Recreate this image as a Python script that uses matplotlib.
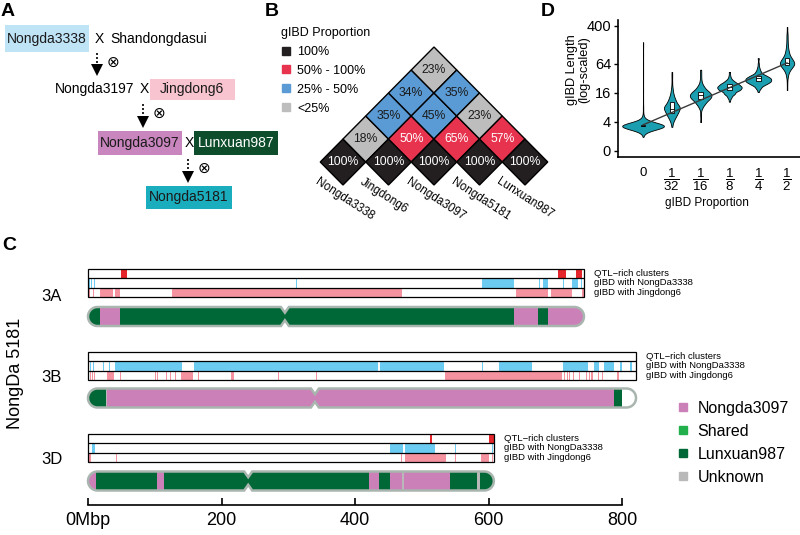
import numpy as np
import matplotlib
matplotlib.use('Agg')
import matplotlib.pyplot as plt
from matplotlib.patches import Polygon, Rectangle
from matplotlib.lines import Line2D

plt.rcParams['font.family'] = ['Liberation Sans', 'DejaVu Sans']
plt.rcParams['mathtext.fontset'] = 'custom'
plt.rcParams['mathtext.rm'] = 'Liberation Sans'
plt.rcParams['mathtext.it'] = 'Liberation Sans'
plt.rcParams['mathtext.bf'] = 'Liberation Sans:bold'

# ---------------- data ----------------
# A: pedigree
ped_names = ['Nongda3338', 'Jingdong6', 'Nongda3097', 'Lunxuan987', 'Nongda5181']
ped_colors = ['#bfe4f6', '#f7c4cf', '#c985bd', '#0e4d2c', '#1aadbd']
ped_text_colors = ['#1a1a1a', '#1a1a1a', '#1a1a1a', 'white', '#1a1a1a']

# B: gIBD proportion between lines (upper triangle)
lines_b = ['Nongda3338', 'Jingdong6', 'Nongda3097', 'Nongda5181', 'Lunxuan987']
gibd_pct = [[100, 18, 35, 34, 23],
            [None, 100, 50, 45, 35],
            [None, None, 100, 65, 23],
            [None, None, None, 100, 57],
            [None, None, None, None, 100]]
pct_classes = ['100%', '50% - 100%', '25% - 50%', '<25%']
pct_colors = ['#231f20', '#e8334f', '#5b9bd5', '#bdbdbd']

# D: gIBD length (log2 Mbp) distributions, read as value / count
d_groups = ['0', '1/32', '1/16', '1/8', '1/4', '1/2']
d_labels = ['0', r'$\dfrac{1}{32}$', r'$\dfrac{1}{16}$', r'$\dfrac{1}{8}$',
            r'$\dfrac{1}{4}$', r'$\dfrac{1}{2}$']
len_vals = [
    [0.97, 1.3, 1.5, 1.6, 1.7, 1.75, 1.8, 1.9, 2.1, 2.4, 3.0, 3.6, 4.2, 4.8, 5.4, 6.0, 6.6, 7.2, 7.5],
    [1.66, 2.0, 2.3, 2.6, 2.9, 3.1, 3.4, 3.7, 4.0, 4.3, 4.7, 5.1, 5.45],
    [2.0, 2.5, 3.0, 3.3, 3.6, 3.85, 4.1, 4.4, 4.7, 5.0, 5.3, 5.6],
    [3.4, 3.7, 3.95, 4.2, 4.4, 4.6, 4.8, 5.0, 5.2, 5.45],
    [4.07, 4.35, 4.6, 4.8, 5.0, 5.2, 5.45, 5.7, 6.0, 6.4],
    [4.2, 4.7, 5.2, 5.6, 5.9, 6.1, 6.4, 6.8, 7.2, 7.6, 8.0, 8.55],
]
len_counts = [
    [1, 4, 20, 40, 60, 60, 40, 20, 8, 4, 2, 1, 1, 1, 1, 1, 1, 1, 1],
    [1, 3, 8, 14, 16, 14, 10, 6, 3, 2, 1, 1, 1],
    [1, 1, 3, 8, 14, 16, 12, 6, 2, 1, 1, 1],
    [1, 3, 8, 14, 16, 12, 6, 2, 1, 1],
    [1, 4, 10, 16, 16, 10, 4, 2, 1, 1],
    [1, 1, 3, 8, 14, 16, 12, 6, 3, 2, 2, 1],
]
trend_x = [0, 5]
trend_y = [1.8, 6.07]
ytick_vals = [1, 4, 16, 64, 400]
ytick_labels = ['0', '4', '16', '64', '400']

# C: chromosome 3 of NongDa 5181 (Mbp)
chroms = ['3A', '3B', '3D']
chrom_len = [743, 821, 608]
centromere = [295, 340, 240]
qtl_3a = [(50, 58), (704, 716), (731, 740)]
qtl_3b = []
qtl_3d = [(512, 516), (601, 608)]
ibd3338_3a = [(1, 2.5), (5, 6.5), (9, 10.5), (312, 313.5), (590, 638), (675, 676.5),
              (682, 689), (712, 713.5), (725, 734), (738, 739.5)]
ibd3338_3b = [(0, 1.5), (3, 4.5), (7, 8.5), (22, 23.5), (31, 32.5), (40, 141), (159, 435),
              (437, 533), (591, 592.5), (616, 665), (712, 749), (758, 766), (773, 788),
              (797, 800), (812, 815)]
ibd3338_3d = [(6, 10), (452, 472), (475, 520), (550, 551.5), (605, 606.5)]
ibdjd6_3a = [(1, 2.5), (7, 8.5), (18, 38), (40, 48), (126, 470), (641, 689), (694, 725), (740, 743)]
ibdjd6_3b = [(0, 1.5), (3, 4.5), (6, 7.5), (9, 10.5), (28, 39), (48, 49.5), (101, 102.5),
             (104, 105.5), (117, 118.5), (123, 124.5), (131, 132.5), (139, 157), (165, 166.5),
             (214, 219), (285, 286.5), (342, 343.5), (535, 710), (713, 714.5), (717, 718.5),
             (721, 722.5), (727, 728.5), (735, 737), (746, 748), (750, 752), (754, 757),
             (764, 765.5), (770, 771.5), (793, 796)]
ibdjd6_3d = [(0, 4), (42, 43.5), (469, 470.5), (475, 536), (550, 551.5), (589, 601), (605, 606.5)]
origin_3a = [(0, 18, 'Lunxuan987'), (18, 48, 'Nongda3097'), (48, 638, 'Lunxuan987'),
             (638, 674, 'Nongda3097'), (674, 689, 'Lunxuan987'), (689, 743, 'Nongda3097')]
origin_3b = [(0, 27, 'Lunxuan987'), (27, 28.5, 'Unknown'), (28.5, 788, 'Nongda3097'),
             (788, 821, 'Lunxuan987')]
origin_3d = [(0, 12, 'Nongda3097'), (12, 103, 'Lunxuan987'), (103, 114, 'Nongda3097'),
             (114, 421, 'Lunxuan987'), (421, 436, 'Nongda3097'), (436, 452, 'Lunxuan987'),
             (452, 471, 'Nongda3097'), (471, 473, 'Unknown'), (473, 542, 'Nongda3097'),
             (542, 583, 'Lunxuan987'), (583, 588, 'Unknown'), (588, 608, 'Lunxuan987')]
origin_names = ['Nongda3097', 'Shared', 'Lunxuan987', 'Unknown']
origin_colors = ['#cc80b8', '#21b04b', '#006837', '#b9b9b9']
track_names = ['QTL\u2212rich clusters', 'gIBD with NongDa3338', 'gIBD with Jingdong6']
track_colors = ['#e4262c', '#6ccbf0', '#f4929f']
x_ticks_c = [0, 200, 400, 600, 800]
x_ticklabels_c = ['0Mbp', '200', '400', '600', '800']

W, H = 800, 535


def frect(l, t, r, b):
    return [l / W, 1 - b / H, (r - l) / W, (b - t) / H]


fig = plt.figure(figsize=(8, 5.35), dpi=100)

for lab, x, y in [('A', 8, 11), ('B', 272, 11), ('C', 9, 246), ('D', 548, 11)]:
    fig.text(x / W, 1 - y / H, lab, fontsize=14, fontweight='bold', ha='center', va='center')

# ---------------- A ----------------
ax_a = fig.add_axes(frect(0, 0, 290, 215))
ax_a.set_xlim(0, 290)
ax_a.set_ylim(215, 0)
ax_a.axis('off')
box_xy = [(5, 89, 25, 52), (150, 235, 79, 100), (98, 182, 131, 155), (194, 278, 131, 155),
          (146, 232, 186, 209)]
text_x = [47, 192, 140, 236, 189]
for name, col, tcol, (x0, x1, y0, y1), tx in zip(ped_names, ped_colors, ped_text_colors, box_xy, text_x):
    ax_a.add_patch(Rectangle((x0, y0), x1 - x0, y1 - y0, color=col, lw=0))
    ax_a.text(tx, (y0 + y1) / 2, name, fontsize=10, color=tcol, ha='center', va='center')
ax_a.text(99, 39, 'X', fontsize=10, ha='center', va='center')
ax_a.text(110, 39, 'Shandongdasui', fontsize=10, ha='left', va='center')
ax_a.text(134, 89, 'Nongda3197', fontsize=10, ha='right', va='center')
ax_a.text(144, 89, 'X', fontsize=10, ha='center', va='center')
ax_a.text(189, 143, 'X', fontsize=10, ha='center', va='center')
for x, y0, y1 in [(97, 53, 75), (143, 104, 127), (188, 159, 182)]:
    ax_a.plot([x, x], [y0, y1 - 8], color='k', lw=1.2, ls=(0, (1.2, 1.2)))
    ax_a.plot(x, y1 - 5, marker='v', ms=8, color='k', mew=0)
    ax_a.text(x + 16, y0 + 9, '\u2297', fontsize=11, family='DejaVu Sans', ha='center', va='center')

# ---------------- B ----------------
ax_b = fig.add_axes(frect(240, 20, 560, 225))
ax_b.set_xlim((240 - 343) / 45.5, (560 - 343) / 45.5)
ax_b.set_ylim((162 - 225) / 23, (162 - 20) / 23)
ax_b.axis('off')
for i in range(5):
    for j in range(i, 5):
        v = gibd_pct[i][j]
        k = 0 if v == 100 else 1 if v >= 50 else 2 if v >= 25 else 3
        cx, cy = (i + j) / 2, j - i
        ax_b.add_patch(Polygon([(cx - 0.5, cy), (cx, cy + 1), (cx + 0.5, cy), (cx, cy - 1)],
                               closed=True, fc=pct_colors[k], ec='k', lw=1.0))
        tc = 'white' if k < 2 else '#1a1a1a'
        ax_b.text(cx, cy, f'{v}%', fontsize=8.8, color=tc, ha='center', va='center')
for i, name in enumerate(lines_b):
    ax_b.text(i - 0.52, -0.6, name, fontsize=8.5, rotation=-33, rotation_mode='anchor',
              ha='left', va='top')
hb = [Line2D([], [], marker='s', ls='', color=c, ms=6) for c in pct_colors]
leg_b = ax_b.legend(hb, pct_classes, title='gIBD Proportion', loc='upper left',
                    bbox_to_anchor=(281 / W, 1 - 27 / H), bbox_transform=fig.transFigure,
                    frameon=False, fontsize=9, title_fontsize=9, alignment='left',
                    handlelength=0.8, handletextpad=0.5, labelspacing=0.55, borderpad=0,
                    borderaxespad=0)

# ---------------- D ----------------
ax_d = fig.add_axes(frect(618, 20, 800, 157))
samples = [np.repeat(v, c) for v, c in zip(len_vals, len_counts)]
pos = np.arange(len(d_groups))
violin_widths = [1.45, 0.55, 0.75, 0.85, 0.9, 0.5]
parts = ax_d.violinplot(samples, positions=pos, widths=violin_widths, showextrema=False,
                        bw_method=0.3)
for b in parts['bodies']:
    b.set_facecolor('#1b9eb0')
    b.set_edgecolor('k')
    b.set_linewidth(0.6)
    b.set_alpha(1)
ax_d.boxplot(samples, positions=pos, widths=0.16, showfliers=False, whis=0, showcaps=False,
             patch_artist=True, boxprops=dict(facecolor='white', lw=0.6),
             medianprops=dict(color='k', lw=0.6), whiskerprops=dict(lw=0))
ax_d.plot(trend_x, trend_y, color='#3a3a3a', lw=1, zorder=5)
ax_d.set_xlim(-0.87, 5.45)
ax_d.set_ylim(-0.414, 9.03)
ax_d.set_yticks(np.log2(ytick_vals))
ax_d.set_yticklabels(ytick_labels, fontsize=10.5)
ax_d.set_xticks(pos)
ax_d.set_xticklabels(d_labels, fontsize=9.5)
ax_d.tick_params(axis='x', length=0, pad=7)
ax_d.tick_params(axis='y', length=3, width=1, pad=2)
for s in ['top', 'right']:
    ax_d.spines[s].set_visible(False)
for s in ['left', 'bottom']:
    ax_d.spines[s].set_linewidth(1.2)
ax_d.set_ylabel('gIBD Length\n(log-scaled)', fontsize=9.2, linespacing=0.95)
ax_d.yaxis.set_label_coords(-0.155, 0.64)
ax_d.set_xlabel('gIBD Proportion', fontsize=8.5)
ax_d.xaxis.set_label_coords(0.49, -0.29)

# ---------------- C ----------------
ax_c = fig.add_axes(frect(88, 262, 622, 505))
ax_c.set_xlim(0, 800)
ax_c.set_ylim(505, 262)
sx = 800 / 534  # Mbp per pixel
track_top = [269, 352, 434]
row_h = 9.3
ideo_c = [316.5, 398, 481]
ideo_h = 9.5
chrom_y_label = [297, 378, 460]
qtls = [qtl_3a, qtl_3b, qtl_3d]
ibd3338 = [ibd3338_3a, ibd3338_3b, ibd3338_3d]
ibdjd6 = [ibdjd6_3a, ibdjd6_3b, ibdjd6_3d]
origins = [origin_3a, origin_3b, origin_3d]
ocol = dict(zip(origin_names, origin_colors))


def chrom_outline(L, c, yc, h):
    rx = h * sx
    w = 4 * sx
    pinch = 0.4 * h
    top, bot = yc - h, yc + h
    pts = [(rx, top), (c - w, top), (c, yc - pinch), (c + w, top), (L - rx, top)]
    for a in np.linspace(np.pi / 2, -np.pi / 2, 24):
        pts.append((L - rx + rx * np.cos(a), yc - h * np.sin(a)))
    pts += [(c + w, bot), (c, yc + pinch), (c - w, bot), (rx, bot)]
    for a in np.linspace(3 * np.pi / 2, np.pi / 2, 24):
        pts.append((rx + rx * np.cos(a), yc - h * np.sin(a)))
    return pts


for k, ch in enumerate(chroms):
    L = chrom_len[k]
    top = track_top[k]
    for r, segs in enumerate([qtls[k], ibd3338[k], ibdjd6[k]]):
        if segs:
            ax_c.broken_barh([(s, e - s) for s, e in segs], (top + r * row_h, row_h),
                             facecolors=track_colors[r], lw=0, clip_on=False)
        ax_c.text(L + 10 * sx, top + (r + 0.5) * row_h, track_names[r], fontsize=6.8,
                  va='center', ha='left', clip_on=False)
    ax_c.add_patch(Rectangle((0, top), L, 3 * row_h, fill=False, ec='k', lw=0.9, clip_on=False))
    ax_c.hlines([top + row_h, top + 2 * row_h], 0, L, color='k', lw=0.9, clip_on=False)
    outline = Polygon(chrom_outline(L, centromere[k], ideo_c[k], ideo_h), closed=True,
                      fill=False, ec='#a9b5af', lw=1.8, clip_on=False, zorder=3)
    ax_c.add_patch(outline)
    for s, e, src in origins[k]:
        bars = ax_c.broken_barh([(s, e - s)], (ideo_c[k] - ideo_h, 2 * ideo_h),
                                facecolors=ocol[src], lw=0)
        bars.set_clip_path(outline)
    ax_c.text((52 - 88) * sx, chrom_y_label[k], ch, fontsize=12,
              ha='center', va='center', clip_on=False)

ax_c.text((16 - 88) * sx, 373, 'NongDa 5181', fontsize=13, rotation=90, ha='center',
          va='center', clip_on=False)
for s in ['top', 'right', 'left']:
    ax_c.spines[s].set_visible(False)
ax_c.spines['bottom'].set_linewidth(1.2)
ax_c.spines['bottom'].set_bounds(0, 800)
ax_c.set_yticks([])
ax_c.set_xticks(x_ticks_c)
ax_c.set_xticklabels(x_ticklabels_c, fontsize=13)
ax_c.tick_params(axis='x', direction='in', length=5, width=1.2, pad=5)
ax_c.patch.set_visible(False)

hc = [Line2D([], [], marker='s', ls='', color=c, ms=5.5) for c in origin_colors]
ax_c.legend(hc, origin_names, loc='upper left', bbox_to_anchor=(677 / W, 1 - 401 / H),
            bbox_transform=fig.transFigure, frameon=False, fontsize=11.5, handlelength=0.7,
            handletextpad=0.6, labelspacing=0.5, borderpad=0, borderaxespad=0)

fig.savefig('out.png', dpi=100)
